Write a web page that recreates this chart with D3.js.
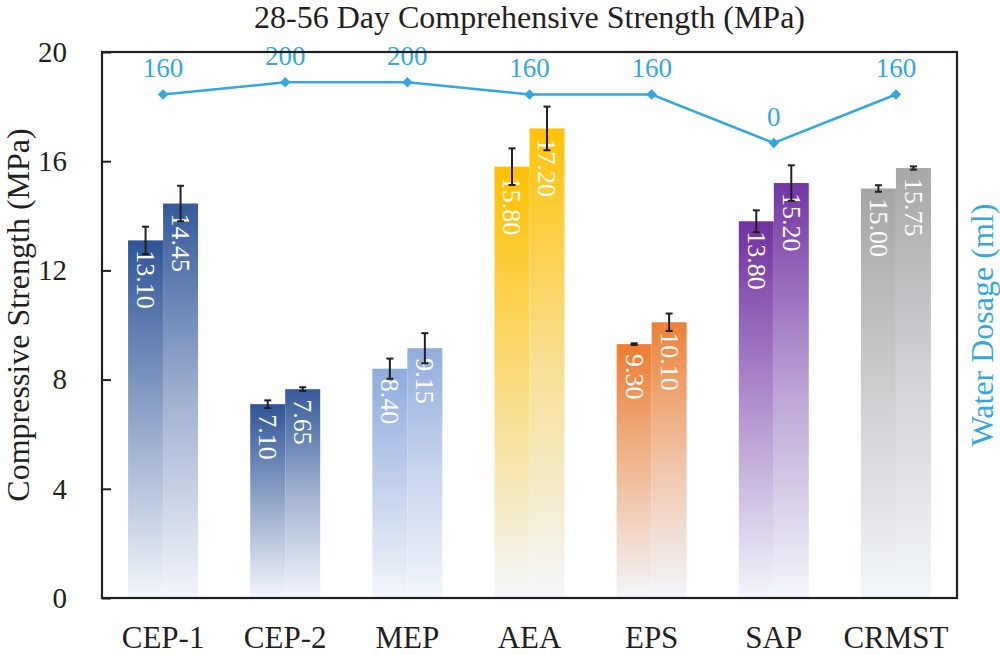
<!DOCTYPE html>
<html>
<head>
<meta charset="utf-8">
<script src="https://cdn.jsdelivr.net/npm/d3@7"></script>
<style>
  body { margin: 0; background: #fff; }
  svg text { font-family: "Liberation Serif", "Times New Roman", serif; }
</style>
</head>
<body>
<svg id="chart"></svg>
<script>
// chart data
const categories = ["CEP-1", "CEP-2", "MEP", "AEA", "EPS", "SAP", "CRMST"]
const day28 = [13.10, 7.10, 8.40, 15.80, 9.30, 13.80, 15.00]
const day56 = [14.45, 7.65, 9.15, 17.20, 10.10, 15.20, 15.75]
const err28 = [0.50, 0.14, 0.37, 0.67, 0.03, 0.40, 0.12]
const err56 = [0.65, 0.07, 0.55, 0.80, 0.32, 0.65, 0.06]
const waterDosage = [160, 200, 200, 160, 160, 0, 160]
const barColors = ["#2F5597", "#2F5597", "#8FAADC", "#FFC000", "#ED7D31", "#7030A0", "#A5A5A5"]
const yTicks = [0, 4, 8, 12, 16, 20]

// basic parameters
const width = 1000
const height = 655
const margin = {top: 52, right: 43, bottom: 57, left: 102}
const innerW = width - margin.left - margin.right
const innerH = height - margin.top - margin.bottom
const lightEnd = "#F3F6FB"
const lineColor = "#33A8E0"
const textColor = "#231F20"

var svg = d3.select("#chart")
  .attr("width", width)
  .attr("height", height)

var defs = svg.append("defs")
var g = svg.append("g").attr("transform", "translate(" + margin.left + "," + margin.top + ")")

// scales
var xScale = d3.scaleBand().domain(categories).range([0, innerW]).paddingInner(0.427).paddingOuter(0.2135)
var subScale = d3.scaleBand().domain(["28", "56"]).range([0, xScale.bandwidth()])
var yScale = d3.scaleLinear().domain([0, 20]).range([innerH, 0])
var y2Scale = d3.scaleLinear().domain([-1500, 300]).range([innerH, 0])

// one row per bar
const rows = []
categories.forEach((c, i) => {
  rows.push({cat: c, key: "28", value: day28[i], err: err28[i], color: barColors[i], idx: i})
  rows.push({cat: c, key: "56", value: day56[i], err: err56[i], color: barColors[i], idx: i})
})

// gradients, one per bar
rows.forEach(d => {
  const grad = defs.append("linearGradient")
    .attr("id", "grad-" + d.idx + "-" + d.key)
    .attr("x1", 0).attr("y1", 0).attr("x2", 0).attr("y2", 1)
  const mix = d3.interpolateRgb(d.color, lightEnd)
  const stops = d.key === "28"
    ? [[0, 0], [0.5, 0.5], [1, 1]]
    : [[0, 0.03], [0.5, 0.58], [1, 1]]
  stops.forEach(s => grad.append("stop").attr("offset", s[0]).attr("stop-color", mix(s[1])))
})

// bars
var bars = g.selectAll("g.bar").data(rows).enter().append("g").attr("class", "bar")

bars.append("rect")
  .attr("x", d => xScale(d.cat) + subScale(d.key))
  .attr("width", subScale.bandwidth())
  .attr("y", d => yScale(d.value))
  .attr("height", d => innerH - yScale(d.value))
  .attr("fill", d => "url(#grad-" + d.idx + "-" + d.key + ")")

// value labels inside bars, rotated
bars.append("text")
  .attr("transform", d => {
    const cx = xScale(d.cat) + subScale(d.key) + subScale.bandwidth() / 2
    return "translate(" + cx + "," + (yScale(d.value) + 10) + ") rotate(90)"
  })
  .attr("dy", "0.33em")
  .attr("fill", "#fff")
  .attr("font-size", 26)
  .text(d => d.value.toFixed(2))

// error bars
const capW = 7
bars.each(function(d) {
  const cx = xScale(d.cat) + subScale(d.key) + subScale.bandwidth() / 2
  const top = yScale(d.value + d.err)
  const bot = yScale(d.value - d.err)
  const sel = d3.select(this).append("g").attr("stroke", "#231F20").attr("stroke-width", 2)
  sel.append("line").attr("x1", cx).attr("x2", cx).attr("y1", top).attr("y2", bot)
  sel.append("line").attr("x1", cx - capW / 2).attr("x2", cx + capW / 2).attr("y1", top).attr("y2", top)
  sel.append("line").attr("x1", cx - capW / 2).attr("x2", cx + capW / 2).attr("y1", bot).attr("y2", bot)
})

// water dosage line
const lineData = categories.map((c, i) => ({cat: c, v: waterDosage[i]}))
var line = d3.line()
  .x(d => xScale(d.cat) + xScale.bandwidth() / 2)
  .y(d => y2Scale(d.v))

g.append("path")
  .datum(lineData)
  .attr("d", line)
  .attr("fill", "none")
  .attr("stroke", lineColor)
  .attr("stroke-width", 2.5)

g.selectAll("path.marker").data(lineData).enter().append("path")
  .attr("class", "marker")
  .attr("d", d3.symbol().type(d3.symbolDiamond2).size(70))
  .attr("transform", d => "translate(" + (xScale(d.cat) + xScale.bandwidth() / 2) + "," + y2Scale(d.v) + ")")
  .attr("fill", lineColor)

g.selectAll("text.wlabel").data(lineData).enter().append("text")
  .attr("class", "wlabel")
  .attr("x", d => xScale(d.cat) + xScale.bandwidth() / 2)
  .attr("y", d => y2Scale(d.v) - 17)
  .attr("text-anchor", "middle")
  .attr("fill", lineColor)
  .attr("font-size", 27)
  .text(d => d.v)

// axes
var yAxis = d3.axisLeft(yScale).tickValues(yTicks).tickSize(-9).tickPadding(35)
var yAx = g.append("g").call(yAxis)
yAx.select(".domain").remove()
yAx.selectAll("line").attr("stroke", textColor).attr("stroke-width", 2)
yAx.selectAll("text").attr("font-size", 29).attr("fill", textColor)

var xAxis = d3.axisBottom(xScale).tickSize(0).tickPadding(28)
var xAx = g.append("g").attr("transform", "translate(0," + innerH + ")").call(xAxis)
xAx.select(".domain").remove()
xAx.selectAll("text").attr("font-size", 31).attr("fill", textColor)

// plot frame
g.append("rect")
  .attr("x", 0).attr("y", 0)
  .attr("width", innerW).attr("height", innerH)
  .attr("fill", "none")
  .attr("stroke", textColor)
  .attr("stroke-width", 2.2)

// titles
svg.append("text")
  .attr("x", margin.left + innerW / 2)
  .attr("y", 28)
  .attr("text-anchor", "middle")
  .attr("font-size", 32)
  .attr("fill", textColor)
  .text("28-56 Day Comprehensive Strength (MPa)")

svg.append("text")
  .attr("transform", "translate(29," + (margin.top + innerH / 2 - 10) + ") rotate(-90)")
  .attr("text-anchor", "middle")
  .attr("font-size", 32)
  .attr("fill", textColor)
  .text("Compressive Strength (MPa)")

svg.append("text")
  .attr("transform", "translate(993," + (margin.top + innerH / 2) + ") rotate(-90)")
  .attr("text-anchor", "middle")
  .attr("font-size", 32)
  .attr("fill", lineColor)
  .text("Water Dosage (ml)")
</script>
</body>
</html>
